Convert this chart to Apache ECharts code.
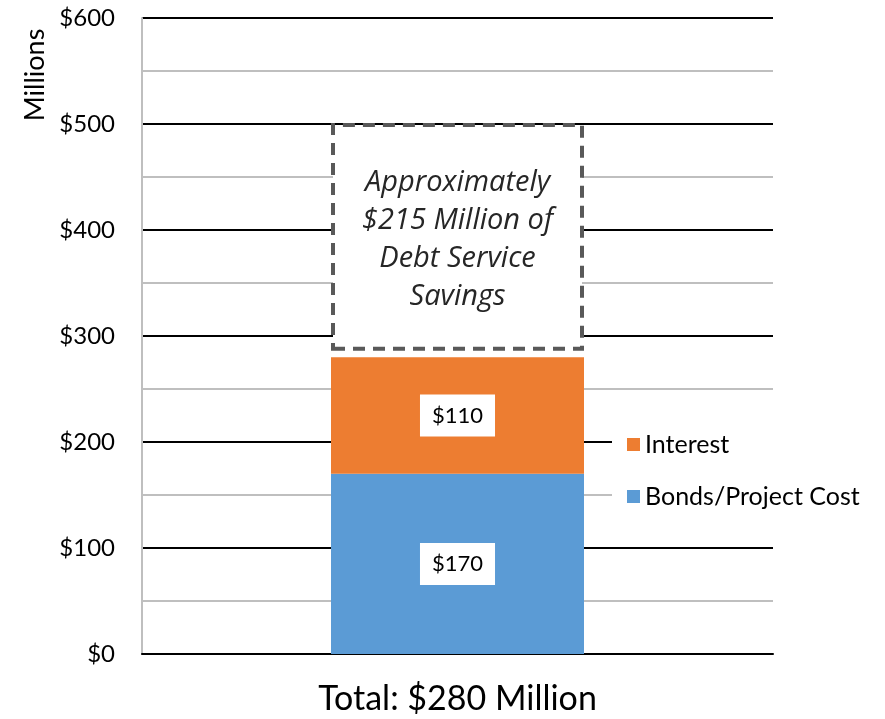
<!DOCTYPE html>
<html>
<head>
<meta charset="utf-8">
<script src="https://cdn.jsdelivr.net/npm/echarts@6/dist/echarts.min.js"></script>
<style>
  html, body { margin: 0; padding: 0; background: #fff; }
  #chart { width: 885px; height: 719px; }
</style>
</head>
<body>
<div id="chart"></div>
<script>
const categories = ['Total: $280 Million']
const bonds = [170]
const interest = [110]
const gap = [6]        // empty space between the bar and the dashed box
const savings = [215]
const yTicks = [0, 100, 200, 300, 400, 500, 600]

const font = 'Lato, "Open Sans", sans-serif'
const chart = echarts.init(document.getElementById('chart'))

const barLabel = {
  show: true,
  position: 'inside',
  formatter: p => '$' + p.value,
  color: '#000',
  fontFamily: font,
  fontSize: 22,
  backgroundColor: '#fff',
  padding: [11, 12, 9, 12]
}

const option = {
  animation: false,
  backgroundColor: '#fff',
  textStyle: { fontFamily: font },
  grid: { left: 142, right: 112, top: 18, bottom: 65 },
  legend: {
    data: ['Interest', 'Bonds/Project Cost'],
    orient: 'vertical',
    left: 612,
    top: 428,
    padding: [4, 14, 4, 15],
    backgroundColor: '#fff',
    icon: 'rect',
    itemWidth: 13,
    itemHeight: 13,
    itemGap: 27,
    textStyle: { fontSize: 25, color: '#000', fontFamily: font }
  },
  graphic: [{
    type: 'text',
    x: 35,
    y: 75,
    rotation: Math.PI / 2,
    style: {
      text: 'Millions',
      fontSize: 27,
      fontFamily: font,
      fill: '#000',
      align: 'center',
      verticalAlign: 'middle'
    }
  }],
  xAxis: {
    type: 'category',
    data: categories,
    axisLine: { lineStyle: { color: '#000', width: 2 } },
    axisTick: { show: false },
    axisLabel: { fontSize: 34, color: '#000', margin: 28, fontFamily: font }
  },
  yAxis: {
    type: 'value',
    min: yTicks[0],
    max: yTicks[yTicks.length - 1],
    interval: 100,
    axisLine: { show: true, lineStyle: { color: '#bfbfbf', width: 2 } },
    axisTick: { show: false },
    axisLabel: { formatter: v => '$' + v, fontSize: 24, color: '#000', margin: 27, fontFamily: font },
    splitLine: { lineStyle: { color: '#000', width: 2 } },
    minorTick: { show: false, splitNumber: 2 },
    minorSplitLine: { show: true, lineStyle: { color: '#bfbfbf', width: 2 } }
  },
  series: [
    {
      name: 'Bonds/Project Cost',
      type: 'bar',
      stack: 'total',
      barWidth: 253,
      data: bonds,
      itemStyle: { color: '#5B9BD5' },
      label: barLabel
    },
    {
      name: 'Interest',
      type: 'bar',
      stack: 'total',
      data: interest,
      itemStyle: { color: '#ED7D31' },
      label: barLabel
    },
    {
      name: 'gap',
      type: 'bar',
      stack: 'total',
      silent: true,
      data: gap,
      itemStyle: { color: 'rgba(0,0,0,0)' }
    },
    {
      name: 'Savings',
      type: 'bar',
      stack: 'total',
      data: savings,
      itemStyle: {
        color: '#fff',
        borderColor: '#595959',
        borderWidth: 4,
        borderType: [12, 8]
      },
      label: {
        show: true,
        position: 'inside',
        offset: [0, 3],
        formatter: 'Approximately\n$215 Million of\nDebt Service\nSavings',
        fontSize: 29,
        fontStyle: 'italic',
        fontFamily: '"Open Sans", sans-serif',
        color: '#262626',
        lineHeight: 38,
        align: 'center'
      }
    }
  ]
}
chart.setOption(option)
</script>
</body>
</html>
